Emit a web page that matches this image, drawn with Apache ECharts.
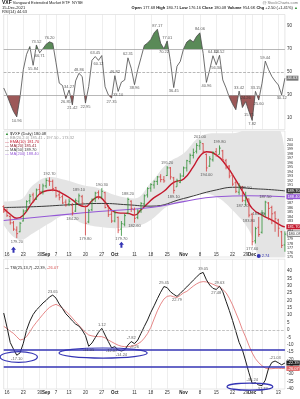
<!DOCTYPE html>
<html><head><meta charset="utf-8">
<script src="https://cdn.jsdelivr.net/npm/echarts@6/dist/echarts.min.js"></script>
<style>html,body{margin:0;padding:0;background:#fff}#c{width:300px;height:399px}</style>
</head><body><div id="c"></div>
<script>
const FONT = 'Liberation Sans, Arial, sans-serif';
const dates = ['08-13','08-16','08-17','08-18','08-19','08-20','08-23','08-24','08-25','08-26','08-27','08-30','08-31',
'09-01','09-02','09-03','09-07','09-08','09-09','09-10','09-13','09-14','09-15','09-16','09-17','09-20','09-21','09-22','09-23','09-24','09-27','09-28','09-29','09-30',
'10-01','10-04','10-05','10-06','10-07','10-08','10-11','10-12','10-13','10-14','10-15','10-18','10-19','10-20','10-21','10-22','10-25','10-26','10-27','10-28','10-29',
'11-01','11-02','11-03','11-04','11-05','11-08','11-09','11-10','11-11','11-12','11-15','11-16','11-17','11-18','11-19','11-22','11-23','11-24','11-26','11-29','11-30',
'12-01','12-02','12-03','12-06','12-07','12-08','12-09','12-10','12-13','12-14','12-15'];
const tickDates = ['08-16','08-23','08-30','09-01','09-07','09-13','09-20','09-27','10-01','10-11','10-18','10-25','11-01','11-08','11-15','11-22','11-29','12-01','12-06','12-13'];
const tickLabels = ['16','23','30','Sep','7','13','20','27','Oct','11','18','25','Nov','8','15','22','29','Dec','6','13'];

const rsi = [36.10,29.80,22.40,15.60,10.96,28.30,52.10,65.40,72.15,55.84,73.52,66.71,70.30,74.20,76.20,75.10,58.00,40.30,38.20,26.85,
34.27,21.42,42.30,48.86,46.10,22.95,37.40,60.20,63.45,60.12,64.30,37.20,30.10,27.35,46.82,33.10,41.20,43.00,62.31,53.20,
38.96,52.10,62.40,73.10,75.20,78.30,84.00,87.17,75.00,70.22,77.01,59.10,36.45,55.00,59.20,70.10,76.00,78.20,76.10,81.00,
84.06,66.20,40.96,52.00,64.12,56.30,64.52,43.10,36.20,28.00,22.10,17.20,33.42,19.10,24.26,15.75,7.82,33.15,25.60,40.20,
59.44,52.10,46.20,42.10,38.70,30.12,44.63];

const opens = [186.2,185.2,184.0,182.6,181.0,180.6,183.0,185.3,187.5,188.8,187.8,190.0,189.6,190.8,191.9,191.8,190.4,188.8,188.4,187.2,
186.8,186.5,185.2,187.4,188.4,186.2,182.8,185.5,188.0,189.3,188.3,189.3,186.2,184.5,183.0,183.8,181.2,182.3,184.8,187.4,
185.5,183.8,185.3,186.8,188.8,190.3,191.0,191.8,192.8,192.2,193.1,194.8,192.6,190.6,191.6,193.0,194.8,196.2,197.6,198.5,
199.7,200.2,197.8,195.2,196.6,198.4,197.8,198.6,196.4,195.2,193.2,191.5,189.4,190.6,187.5,187.9,184.5,178.6,181.6,180.5,
184.6,187.0,186.0,184.8,183.2,180.6,177.68];
const highs = [186.5,185.8,184.5,183.0,181.8,182.8,185.6,187.6,189.0,189.3,190.2,191.2,191.3,192.5,192.7,192.2,190.6,189.8,188.9,187.8,
188.0,187.0,188.0,189.1,188.8,186.5,185.7,188.0,189.5,189.8,190.3,189.5,186.5,185.2,185.3,184.0,183.0,184.6,188.2,187.6,
186.0,185.6,187.2,188.9,190.5,191.4,192.0,193.0,193.4,193.0,195.2,195.0,192.8,192.4,193.6,195.1,196.6,198.0,199.1,200.3,
201.0,200.3,198.0,197.4,198.5,199.2,199.8,198.8,196.8,195.4,193.5,192.0,191.4,190.8,189.5,188.0,184.8,181.7,183.9,185.4,
187.5,187.2,186.4,185.2,183.5,180.8,180.71];
const lows = [184.8,183.9,182.2,180.8,179.2,180.5,182.9,185.0,186.8,187.0,187.7,188.8,188.9,190.3,190.8,189.6,188.2,187.6,186.8,186.2,
186.3,184.2,185.0,186.8,186.3,179.8,182.5,185.2,187.2,187.8,188.0,185.8,183.9,182.6,182.7,180.3,179.7,181.8,184.5,185.0,
182.6,183.4,184.8,186.3,188.2,189.5,190.2,191.0,191.6,191.5,193.0,192.2,189.1,190.6,191.4,192.8,194.0,195.6,196.9,198.0,
198.8,198.0,194.0,195.0,196.2,197.3,197.8,196.3,194.5,192.5,190.8,189.2,188.8,187.2,186.4,183.8,177.6,178.0,179.5,180.2,
183.9,183.2,182.3,180.6,179.5,177.0,176.16];
const closes = [185.2,184.2,182.6,181.2,180.2,182.5,185.2,187.3,188.5,187.4,189.9,189.5,190.8,192.0,191.8,190.2,188.6,188.2,187.0,186.6,
187.4,184.8,187.5,188.6,187.0,182.5,185.3,187.8,189.2,188.2,189.6,186.0,184.4,183.0,184.8,181.0,182.4,184.2,187.8,185.8,
183.6,185.2,186.9,188.6,190.2,191.1,191.8,192.8,192.2,191.9,194.8,192.8,189.8,192.0,193.0,194.8,196.4,197.6,198.2,199.8,
200.5,198.5,194.8,196.8,198.2,197.6,199.2,196.6,195.0,193.0,191.2,189.6,190.8,187.6,188.3,184.3,178.4,181.3,180.0,184.8,
187.2,185.8,184.6,183.5,181.4,177.58,180.08];

// moving averages as [dayIndex, value]
const maShort = [[0,185.8],[2,184.5],[4,183.6],[6,184.3],[9,187.3],[12,189.5],[15,189.9],[18,189.1],[21,187.7],[23,186.6],[25,186.2],[27,187.5],[29,188.4],[31,187.2],[33,185.4],[35,184.8],[38,184.7],[40,184.3],[42,185.5],[44,186.9],[46,188.2],[49,189.6],[52,191.6],[55,192.3],[58,195.1],[60,197.4],[62,198.4],[65,197.7],[68,195.4],[71,192.1],[74,188.4],[76,185.8],[79,184.3],[82,183.2],[85,181.9],[86,181.7]];
const ma50 = [[0,186.0],[10,186.2],[20,186.6],[30,186.9],[38,186.6],[45,186.3],[55,188.0],[65,189.9],[71,190.5],[76,190.2],[81,190.0],[86,189.7]];
const ma200 = [[0,183.1],[14,184.1],[29,185.1],[45,186.0],[55,187.3],[65,188.4],[75,188.6],[86,188.4]];
const bbUpper = [[0,187.3],[5,187.7],[9,191.0],[14,192.8],[19,192.1],[24,191.0],[29,190.3],[34,188.8],[40,188.0],[45,191.5],[50,195.8],[55,198.0],[60,201.7],[65,202.5],[70,202.5],[75,203.5],[80,204],[84,203.6],[86,197.5]];
const bbLowerV = [[0,182.1],[5,178.8],[9,180.3],[14,182.5],[19,184.3],[24,182.5],[29,181.7],[34,181.4],[40,181.7],[45,183.2],[50,186.2],[55,187.3],[60,189.1],[65,188.4],[70,185.4],[75,181.0],[80,173],[84,173],[86,173]];

const tsi = [11.5,2.0,-8.5,-13.0,-17.10,-15.5,-9.0,0.0,6.0,10.5,13.6,15.8,18.3,20.1,22.4,23.65,21.6,17.6,14.5,11.0,
8.7,6.2,4.0,2.7,0.0,-3.8,-11.05,-8.8,-5.2,-1.5,1.12,-3.4,-7.9,-12.07,-11.3,-13.5,-14.24,-13.5,-10.2,-7.82,
-9.26,-6.8,-2.2,2.4,6.8,12.0,16.4,21.2,25.6,29.45,28.7,25.9,24.2,22.79,24.8,27.1,29.2,31.5,33.8,36.0,
38.1,39.05,34.0,30.5,28.2,27.48,29.63,26.0,19.5,13.2,6.4,-1.0,-8.4,-13.5,-21.0,-29.0,-36.24,-35.8,-37.3,-37.72,
-34.0,-26.0,-22.0,-21.03,-22.2,-23.6,-22.39];
const tsiSignal = [2.5,1.0,-0.8,-2.3,-4.6,-6.8,-6.2,-4.5,-1.2,2.3,5.2,7.9,10.6,13.2,15.3,16.6,17.4,16.3,14.7,12.7,
10.6,8.1,5.6,3.2,0.7,-1.6,-3.4,-4.0,-4.4,-4.5,-4.5,-5.3,-6.8,-8.0,-9.2,-10.3,-11.0,-11.3,-11.3,-11.0,
-10.5,-9.4,-8.0,-5.5,-2.4,1.8,7.5,13.0,17.5,21.0,22.8,23.2,22.5,22.0,23.5,25.2,26.2,28.0,29.8,31.3,
32.4,32.8,32.6,31.9,31.0,30.0,29.4,27.5,25.3,21.5,17.0,11.6,6.3,0.2,-4.8,-10.5,-15.6,-19.5,-22.2,-24.2,
-25.8,-26.3,-26.2,-26.0,-26.0,-26.1,-26.07];

const rsiTicks = [10,30,50,70,90];
const rsiLevels = [70,50,30];
const tsiLevels = [-13.1,-24.9];
const rsiNotes = [[4,'b'],[9,'b'],[10,'t'],[11,'b'],[14,'t'],[19,'b'],[20,'t'],[21,'b'],[23,'t'],[25,'b'],[28,'t'],[29,'b'],[33,'b'],[34,'t'],[35,'b'],[38,'t'],[40,'b'],[47,'t'],[49,'b'],[50,'t'],[52,'b'],[60,'t'],[62,'b'],[64,'t'],[65,'b'],[66,'t'],[72,'t'],[74,'t'],[75,'b'],[76,'b'],[77,'t'],[78,'b'],[80,'t'],[85,'b']];
const priceNotes = [[4,'L'],[14,'H'],[21,'L'],[23,'H'],[25,'L'],[30,'H'],[36,'L'],[38,'H'],[40,'L'],[50,'H'],[52,'L'],[60,'H'],[62,'L'],[66,'H'],[73,'L'],[74,'H'],[75,'L'],[76,'L'],[78,'H'],[80,'H']];
const tsiNotes = [[4,'b'],[15,'t'],[26,'b'],[30,'t'],[33,'b'],[36,'b'],[39,'t'],[40,'b'],[49,'t'],[53,'b'],[61,'t'],[65,'b'],[66,'t'],[76,'t'],[79,'b'],[83,'t']];
const arrowMarks = [[3,176.6],[36,177.7]];
const dotMark = [78,175.2,'2.74'];
const ellipses = [{j:4.6,v:-18.3,dj:5.7,dv:3.6},{j:30.4,v:-15.6,dj:13.5,dv:3.4},{j:75.3,v:-38.4,dj:7.0,dv:2.4}];

const BLUE = '#3434b4';
const chart = echarts.init(document.getElementById('c'), null, {renderer:'canvas'});

function xa(grid, show, pos, split){
  return {type:'category', gridIndex:grid, data:dates, boundaryGap:false, position:pos,
    axisLine:{show:false}, axisTick:{show:false},
    axisLabel:{show:show, fontSize:4.5, color:'#333', margin:1.5, fontFamily:FONT,
      interval:(i,v)=>tickDates.indexOf(v)>=0,
      formatter:v=>{const t=tickLabels[tickDates.indexOf(v)]; return isNaN(+t)?'{b|'+t+'}':t;},
      rich:{b:{fontWeight:'bold',fontSize:4.5,fontFamily:FONT,color:'#222'}}},
    splitLine:{show:split, interval:(i,v)=>tickDates.indexOf(v)>=0, lineStyle:{color:'#e3e3e3',width:0.6}}};
}
function ya(grid, min, max, interval, fmt, fs){
  return {type:'value', gridIndex:grid, position:'right', min:min, max:max, interval:interval, scale:true,
    axisLine:{show:false}, axisTick:{show:false}, splitLine:{show:false},
    axisLabel:{fontSize:fs||4.5, color:'#333', margin:2, fontFamily:FONT, formatter:fmt}};
}
function noteSeries(xi, list, getVal){
  return {type:'scatter', xAxisIndex:xi, yAxisIndex:xi, symbolSize:1, itemStyle:{color:'rgba(0,0,0,0)'}, silent:true, z:6,
    data:list.map(([i,p])=>({value:[dates[i], getVal(i,p)], label:{position:(p==='t'||p==='H')?'top':'bottom'}})),
    label:{show:true, fontSize:4, color:'#333', distance:1, fontFamily:FONT, formatter:q=>q.value[1].toFixed(2)}};
}
function boxLabel(bg, fg){
  return {show:true, fontSize:4, color:fg||'#fff', backgroundColor:bg, padding:[0.5,1], distance:1.5, fontFamily:FONT,
    formatter:p=>{const v=Array.isArray(p.value)?p.value[1]:p.value; return v.toFixed(2);}};
}
const pairs = a=>a.map(([i,v])=>[dates[i],v]);
const ohlcData = dates.map((d,i)=>[i, opens[i], highs[i], lows[i], closes[i], i>0?closes[i-1]:opens[i]]);
const bandData = bbUpper.map(([i,v],k)=>[dates[i], v - bbLowerV[k][1]]);

const option = {
  animation:false,
  textStyle:{fontFamily:FONT},
  grid:[
    {left:3.7, right:15.1, top:14.5, height:115, show:true, borderColor:'#cfcfcf', borderWidth:0.5},
    {left:3.7, right:15.1, top:131, height:126, show:true, borderColor:'#cfcfcf', borderWidth:0.5},
    {left:3.7, right:15.1, top:259.2, height:129.8, show:true, borderColor:'#cfcfcf', borderWidth:0.5}
  ],
  xAxis:[xa(0,false,'bottom',true), xa(1,false,'bottom',true), xa(2,true,'bottom',true), xa(2,true,'top',false)],
  yAxis:[
    ya(0,0,100,10,v=>rsiTicks.indexOf(v)>=0?v:''),
    ya(1,175,203,1,v=>v<=201?v:'',3.8),
    ya(2,-40,48,5,v=>(v<=40 && v%5===0)?v:'')
  ],
  visualMap:{type:'piecewise', show:false, seriesIndex:0, dimension:1,
    pieces:[{lt:30,color:'#9c5858'},{gte:30,lte:70,color:'rgba(255,255,255,0)'},{gt:70,color:'#5a8a58'}]},
  series:[
    {type:'line', xAxisIndex:0, yAxisIndex:0, data:rsi, symbol:'none', silent:true, z:1,
      lineStyle:{width:0}, areaStyle:{origin:50, opacity:1}},
    {type:'line', xAxisIndex:0, yAxisIndex:0, data:rsi, symbol:'none', silent:true, z:3,
      lineStyle:{color:'#4a4a4a', width:0.8},
      endLabel:boxLabel('#777'),
      markLine:{silent:true, symbol:['none','none'], label:{show:false},
        data:rsiLevels.map(v=>({yAxis:v, lineStyle:{color:'#9a9a9a', width:0.7, type:v===50?'dashed':'solid'}}))}},
    noteSeries(0, rsiNotes, i=>rsi[i]),

    {type:'line', xAxisIndex:1, yAxisIndex:1, data:pairs(bbLowerV), stack:'bb', symbol:'none', smooth:0.4, silent:true, z:1,
      lineStyle:{width:0}},
    {type:'line', xAxisIndex:1, yAxisIndex:1, data:bandData, stack:'bb', symbol:'none', smooth:0.4, silent:true, z:1,
      lineStyle:{width:0}, areaStyle:{color:'#e4e4e4', opacity:1}},
    {type:'line', xAxisIndex:1, yAxisIndex:1, data:pairs(maShort), symbol:'none', smooth:0.5, silent:true, z:3,
      lineStyle:{color:'#c4172c', width:1.4}, endLabel:boxLabel('#c4172c')},
    {type:'line', xAxisIndex:1, yAxisIndex:1, data:pairs(ma50), symbol:'none', smooth:0.5, silent:true, z:3,
      lineStyle:{color:'#3a3a3a', width:1}, endLabel:boxLabel('#3a3a3a')},
    {type:'line', xAxisIndex:1, yAxisIndex:1, data:pairs(ma200), symbol:'none', smooth:0.5, silent:true, z:3,
      lineStyle:{color:'#9457d6', width:1.1}, endLabel:boxLabel('#9457d6')},
    {type:'custom', xAxisIndex:1, yAxisIndex:1, data:ohlcData, encode:{x:0, y:[1,2,3,4]}, z:4, silent:true,
      renderItem:(params, api)=>{
        const i=api.value(0);
        const o=api.coord([i,api.value(1)]), h=api.coord([i,api.value(2)]), l=api.coord([i,api.value(3)]), c=api.coord([i,api.value(4)]);
        const col = api.value(4) >= api.value(5) ? '#2f8f35' : '#d33b3b';
        const w = api.size([1,0])[0]*0.4;
        const st = {stroke:col, lineWidth:0.8};
        return {type:'group', children:[
          {type:'line', shape:{x1:h[0],y1:h[1],x2:l[0],y2:l[1]}, style:st},
          {type:'line', shape:{x1:o[0]-w,y1:o[1],x2:o[0],y2:o[1]}, style:st},
          {type:'line', shape:{x1:c[0],y1:c[1],x2:c[0]+w,y2:c[1]}, style:st}]};
      },
      markPoint:{silent:true,
        data:arrowMarks.map(([i,v])=>({coord:[dates[i],v], symbol:'path://M5,0 L10,5 L7,5 L7,10 L3,10 L3,5 L0,5 Z', symbolSize:[5,6], itemStyle:{color:BLUE}, label:{show:false}}))
          .concat([{coord:[dates[dotMark[0]],dotMark[1]], symbol:'circle', symbolSize:4, itemStyle:{color:BLUE},
            label:{show:true, position:'right', distance:1, formatter:dotMark[2], fontSize:4, color:BLUE}}])}},
    noteSeries(1, priceNotes, (i,p)=>p==='H'?highs[i]:lows[i]),
    {type:'scatter', xAxisIndex:1, yAxisIndex:1, data:[[dates[86], closes[86]]], symbolSize:1, itemStyle:{color:'rgba(0,0,0,0)'}, silent:true, z:7,
      label:Object.assign(boxLabel('#fff','#000'), {position:['100%','0%'], offset:[2,-2.5], borderColor:'#000', borderWidth:0.5})},

    {type:'line', xAxisIndex:2, yAxisIndex:2, data:tsi, symbol:'none', silent:true, z:4,
      lineStyle:{color:'#1e1e1e', width:1}, endLabel:boxLabel('#1e1e1e'),
      markLine:{silent:true, symbol:['none','none'], label:{show:false},
        data:[{yAxis:0, lineStyle:{color:'#aaa', width:0.7, type:'dashed'}}]
          .concat(tsiLevels.map(v=>({yAxis:v, lineStyle:{color:BLUE, width:1.5, type:'solid'}})))}},
    {type:'line', xAxisIndex:2, yAxisIndex:2, data:tsiSignal, symbol:'none', silent:true, z:3,
      lineStyle:{color:'#e06a6a', width:0.8}, endLabel:boxLabel('#e06a6a')},
    noteSeries(2, tsiNotes, i=>tsi[i])
  ]
};
chart.setOption(option);

function px(j, v){
  const a = chart.convertToPixel({xAxisIndex:2, yAxisIndex:2}, [0, v]);
  const b = chart.convertToPixel({xAxisIndex:2, yAxisIndex:2}, [1, v]);
  return [a[0] + (b[0]-a[0])*j, a[1]];
}
const ell = ellipses.map(e=>{
  const c = px(e.j, e.v), r = px(e.j+e.dj, e.v+e.dv);
  return {type:'ellipse', shape:{cx:c[0], cy:c[1], rx:Math.abs(r[0]-c[0]), ry:Math.abs(c[1]-r[1])},
    style:{fill:'none', stroke:BLUE, lineWidth:1.2}, z:100, silent:true};
});
const t = (x,y,text,extra)=>Object.assign({type:'text', x:x, y:y, silent:true, z:100,
  style:Object.assign({text:text, fontSize:4, fontFamily:FONT, fill:'#222',
    rich:{b:{fontWeight:'bold', fontSize:4, fontFamily:FONT, fill:'#111'}, bb:{fontWeight:'bold', fontSize:5, fontFamily:FONT, fill:'#111'},
      r:{fontSize:4, fontFamily:FONT, fill:'#d24a4a'}, g:{fontSize:4, fontFamily:FONT, fill:'#2f8f35'}}}, extra||{})});
chart.setOption({graphic:[
  t(2,0.5,'{bb|VXF} Vanguard Extended Market ETF  NYSE'),
  t(2,5.5,'15-Dec-2021'),
  t(2,10,'RSI(14) 44.63'),
  t(298,0.5,'@ StockCharts.com',{align:'right', fill:'#777'}),
  t(298,5.5,'{b|Open} 177.68 {b|High} 180.71 {b|Low} 176.16 {b|Close} 180.08 {b|Volume} 954.6K {b|Chg} +2.50 (+1.41%) {g|▲}',{align:'right'}),
  t(5,131.5,'{g|▲} $VXF (Daily) 180.08'),
  t(5,135.5,'— BB(20,2.0) 185.41 - 197.50 - 173.32',{fill:'#999'}),
  t(5,139.5,'— EMA(10) 181.70',{fill:'#c4172c'}),
  t(5,143.5,'— MA(20) 185.41',{fill:'#8a1c2a'}),
  t(5,147.5,'— MA(50) 189.70',{fill:'#3a3a3a'}),
  t(5,151.5,'— MA(200) 188.40',{fill:'#9457d6'}),
  t(5,266,'— TSI(25,13,7) -22.39, {r|-26.07}')
].concat(ell)});
</script>
</body></html>
